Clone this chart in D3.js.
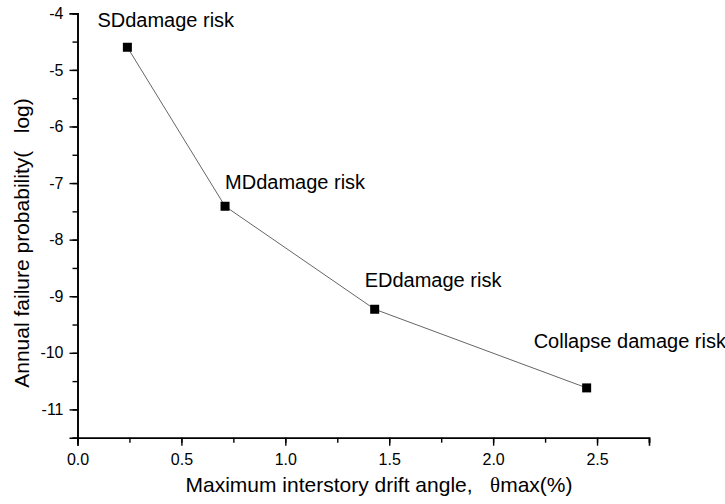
<!doctype html>
<head>
  <meta charset="utf-8">
  <title>Annual failure probability</title>
  <script src="https://d3js.org/d3.v7.min.js"></script>
  <style>
    body { margin: 0; background: #fff; }
    text { font-family: Arial, "Liberation Sans", sans-serif; fill: #000; }
  </style>
</head>
<body>
  <div id="chart"></div>
  <script>
    // data
    var driftAngle = [0.24, 0.71, 1.43, 2.45];
    var failureLog = [-4.6, -7.41, -9.23, -10.62];
    var pointLabels = ["SDdamage risk", "MDdamage risk", "EDdamage risk", "Collapse damage risk"];
    var xTicks = [0, 0.5, 1.0, 1.5, 2.0, 2.5];
    var yTicks = [-11, -10, -9, -8, -7, -6, -5, -4];

    // label offsets from each point (layout only)
    var labelOffset = [[-30, -20], [0, -17], [-10, -22], [-53, -40]];

    var W = 725, H = 504;
    var svg = d3.select("#chart").append("svg")
      .attr("width", W).attr("height", H);

    var x = d3.scaleLinear().domain([0, 2.75]).range([77.5, 649]);
    var y = d3.scaleLinear().domain([-11.5, -4]).range([437.7, 13.3]);

    // x axis
    var xAxis = svg.append("g").attr("transform", "translate(0," + y(-11.5) + ")");
    xAxis.call(d3.axisBottom(x).tickValues(d3.range(0, 2.76, 0.25)).tickSize(5).tickFormat(""));
    xAxis.append("g").call(d3.axisBottom(x).tickValues(xTicks).tickSize(8)
      .tickFormat(d3.format(".1f")));
    xAxis.selectAll("path").attr("stroke-width", 1.6);
    xAxis.selectAll("line").attr("stroke-width", 1.4);
    xAxis.selectAll("text").style("font-size", "16px").attr("dy", "1.05em");

    // y axis
    var yAxis = svg.append("g").attr("transform", "translate(" + x(0) + ",0)");
    yAxis.call(d3.axisLeft(y).tickValues(d3.range(-11.5, -3.99, 0.5)).tickSize(5).tickFormat(""));
    yAxis.append("g").call(d3.axisLeft(y).tickValues(yTicks).tickSize(8)
      .tickFormat(function(d) { return String(d); }));
    yAxis.selectAll("path").attr("stroke-width", 1.6);
    yAxis.selectAll("line").attr("stroke-width", 1.4);
    yAxis.selectAll("text").style("font-size", "16px").attr("x", -14);
    svg.selectAll(".domain").attr("stroke", "#000");

    // line and points
    var pts = driftAngle.map(function(d, i) { return [d, failureLog[i]]; });
    svg.append("path")
      .datum(pts)
      .attr("fill", "none")
      .attr("stroke", "#555")
      .attr("stroke-width", 0.9)
      .attr("d", d3.line().x(function(d) { return x(d[0]); }).y(function(d) { return y(d[1]); }));

    svg.selectAll(".pt").data(pts).enter().append("rect")
      .attr("class", "pt")
      .attr("x", function(d) { return x(d[0]) - 4.5; })
      .attr("y", function(d) { return y(d[1]) - 4.5; })
      .attr("width", 9).attr("height", 9)
      .attr("fill", "#000");

    svg.selectAll(".lbl").data(pts).enter().append("text")
      .attr("class", "lbl")
      .attr("x", function(d, i) { return x(d[0]) + labelOffset[i][0]; })
      .attr("y", function(d, i) { return y(d[1]) + labelOffset[i][1]; })
      .style("font-size", "20px")
      .text(function(d, i) { return pointLabels[i]; });

    // axis titles
    var xt = svg.append("text")
      .attr("x", 379).attr("y", 492)
      .attr("text-anchor", "middle")
      .style("font-size", "21px")
      .attr("xml:space", "preserve");
    xt.append("tspan").text("Maximum interstory drift angle,   ");
    xt.append("tspan").style("font-family", "'Liberation Serif', serif").text("\u03b8");
    xt.append("tspan").text("max(%)");

    svg.append("text")
      .attr("transform", "translate(29,243) rotate(-90)")
      .attr("text-anchor", "middle")
      .style("font-size", "21px")
      .attr("xml:space", "preserve")
      .text("Annual failure probability(   log)");
  </script>
</body>
